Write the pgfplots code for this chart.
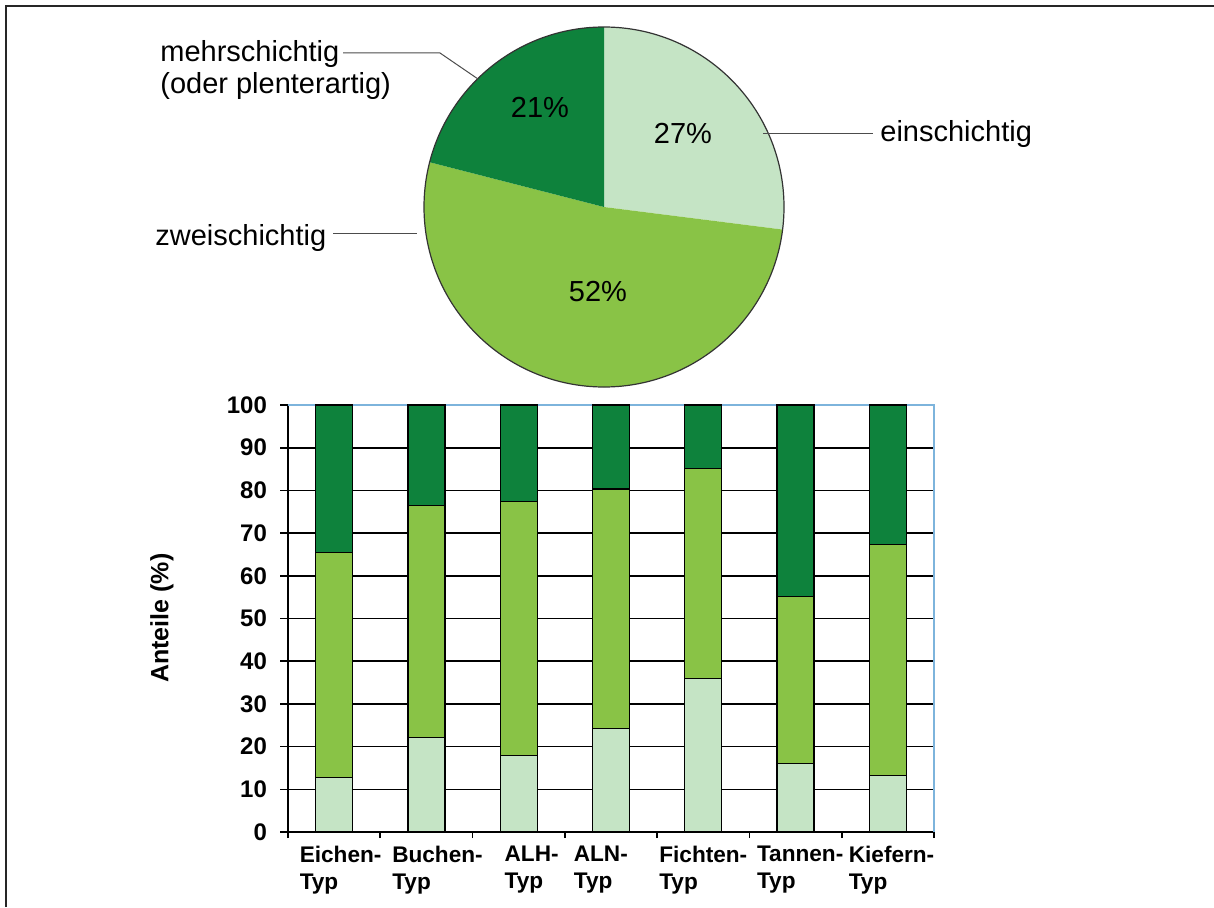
\documentclass[border=0pt]{standalone}
\usepackage{fontspec}
\setmainfont{Liberation Sans}
\usepackage{pgfplots}
\usepackage{pgfplotstable}
\pgfplotsset{compat=1.18}

\definecolor{gdark}{RGB}{14,130,60}
\definecolor{gmid}{RGB}{137,195,70}
\definecolor{glight}{RGB}{197,228,197}
\definecolor{frameblue}{RGB}{125,180,220}

% Anteile (%) je Typ: einschichtig, zweischichtig, mehrschichtig
\pgfplotstableread{
x ein  zwei mehr
0 12.7 52.7 34.6
1 22.1 54.4 23.5
2 17.9 59.5 22.6
3 24.3 56.0 19.7
4 35.9 49.3 14.8
5 16.1 39.1 44.8
6 13.3 54.1 32.6
}\typdata

\begin{document}
\begin{tikzpicture}[x=0.5pt,y=0.5pt]
\path[use as bounding box] (0,0) rectangle (1214,907);
\draw[line width=0.9pt,black!85] (6,0) -- (6,901) -- (1214,901);

% ---- pie ----
\begin{axis}[
  at={(302pt,350pt)}, anchor=center,
  scale only axis, width=180pt, height=180pt,
  xmin=-1, xmax=1, ymin=-1, ymax=1,
  hide axis, clip=false,
]
\fill[glight] (axis cs:0,0) -- ++(90:90pt) arc[start angle=90, delta angle=-27*3.6, radius=90pt] -- cycle;
\fill[gmid] (axis cs:0,0) -- ++(90-27*3.6:90pt) arc[start angle=90-27*3.6, delta angle=-52*3.6, radius=90pt] -- cycle;
\fill[gdark] (axis cs:0,0) -- ++(90-79*3.6:90pt) arc[start angle=90-79*3.6, delta angle=-21*3.6, radius=90pt] -- cycle;
\draw[line width=0.6pt, black!80] (axis cs:0,0) circle[radius=90pt];
\end{axis}

\begin{scope}[every node/.style={inner sep=0pt, font=\fontsize{14.5}{16}\selectfont}]
\node at (683,774) {27\%};
\node at (540,800) {21\%};
\node at (598,615) {52\%};
\node[anchor=base west] at (160,845) {mehrschichtig};
\node[anchor=base west] at (160,813) {(oder plenterartig)};
\node[anchor=base west] at (155,662) {zweischichtig};
\node[anchor=base west] at (880,765) {einschichtig};
\end{scope}
\draw[black!70, line width=0.5pt] (343,854) -- (440,854) -- (478,828);
\draw[black!70, line width=0.5pt] (763,773) -- (873,773);
\draw[black!70, line width=0.5pt] (333,674) -- (417,674);

% ---- stacked bars ----
\begin{axis}[
  at={(144pt,37.5pt)}, anchor=south west,
  scale only axis, width=323pt, height=213.5pt,
  ybar stacked, bar width=18.5pt,
  xmin=-0.5, xmax=6.5, ymin=0, ymax=100,
  ytick={0,10,...,100},
  % label positions nudged as in the original
  xtick={0.07,1.12,2.14,2.89,4.0,5.05,6.04},
  xticklabels={Eichen-\\Typ, Buchen-\\Typ, ALH-\\Typ, ALN-\\Typ, Fichten-\\Typ, Tannen-\\Typ, Kiefern-\\Typ},
  minor xtick={-0.5,0.5,...,6.5},
  major x tick style={draw=none},
  axis x line*=bottom, axis y line*=left,
  axis line style={black, line width=0.8pt},
  tick align=outside,
  major tick length=4pt, minor tick length=3pt,
  tick style={black, line width=0.8pt},
  ymajorgrids, grid style={black, line width=0.8pt},
  /pgf/number format/assume math mode=true,
  ticklabel style={font=\fontsize{12}{14}\selectfont\bfseries},
  yticklabel style={xshift=-3pt},
  xticklabel style={align=left, font=\fontsize{11.3}{13.5}\selectfont\bfseries, inner sep=1pt, yshift=-2pt},
  ylabel={Anteile (\%)},
  ylabel style={at={(axis description cs:-0.195,0.501)}, anchor=center,
    font=\fontsize{12.5}{14}\selectfont\bfseries},
  every axis plot/.append style={draw=black, line width=0.7pt},
  clip=false,
]
\addplot[fill=glight] table[x=x, y=ein] {\typdata};
\addplot[fill=gmid] table[x=x, y=zwei] {\typdata};
\addplot[fill=gdark] table[x=x, y=mehr] {\typdata};
\draw[frameblue, line width=0.8pt] (rel axis cs:0,1) -- (rel axis cs:1,1) -- (rel axis cs:1,0);
\end{axis}
\end{tikzpicture}
\end{document}
